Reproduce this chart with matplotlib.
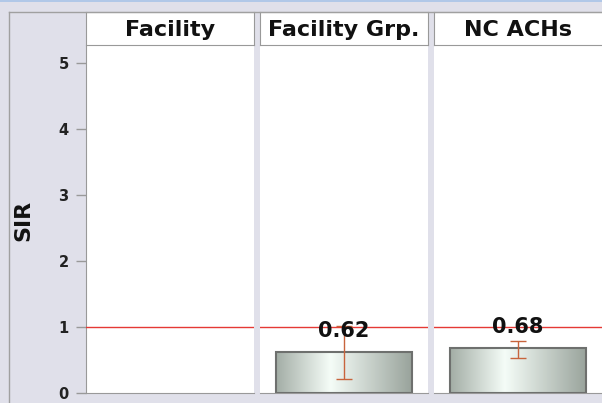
import matplotlib
matplotlib.use("Agg")
import matplotlib.pyplot as plt
import numpy as np
from matplotlib.patches import Rectangle
from matplotlib.lines import Line2D

# ---- data ----
panels = ["Facility", "Facility Grp.", "NC ACHs"]
sir_values = [None, 0.62, 0.68]
ci_lower = [None, 0.21, 0.54]
ci_upper = [None, 1.02, 0.80]
y_ticks = [0, 1, 2, 3, 4, 5]
reference_line = 1.0
y_label = "SIR"

W, H = 602, 403
BG = "#e0e0ea"
fig = plt.figure(figsize=(W / 100, H / 100), dpi=100, facecolor=BG)

def px(x, y, w, h):
    return [x / W, (H - y - h) / H, w / W, h / H]

# outer frame lines
fig.add_artist(Line2D([0, 1], [1 - 0.5 / H, 1 - 0.5 / H], transform=fig.transFigure, color="#a8c4e8", lw=1.2))
fig.add_artist(Line2D([8.5 / W, 8.5 / W], [0, 1 - 11.5 / H], transform=fig.transFigure, color="#a0a0a0", lw=1))
fig.add_artist(Line2D([8.5 / W, 1], [1 - 11.5 / H, 1 - 11.5 / H], transform=fig.transFigure, color="#a0a0a0", lw=1))

panel_x = [86, 260, 434]
panel_w = 168
plot_top, plot_bot = 46, 393.3
ymax = (plot_bot - plot_top) / 66.0

# gradient for bars
grad_pos = np.array([0.0, 0.4, 1.0])
grad_cols = np.array([[0.64, 0.68, 0.65], [0.96, 0.99, 0.97], [0.60, 0.64, 0.61]])
xs = np.linspace(0, 1, 200)
grad = np.stack([np.interp(xs, grad_pos, grad_cols[:, c]) for c in range(3)], axis=-1)[None, :, :]

for i, (name, val, lo, hi) in enumerate(zip(panels, sir_values, ci_lower, ci_upper)):
    ax = fig.add_axes(px(panel_x[i], plot_top, panel_w, plot_bot - plot_top))
    ax.set_facecolor("white")
    ax.set_xlim(0, 1)
    ax.set_ylim(0, ymax)
    for s in ["top", "right"]:
        ax.spines[s].set_visible(False)
    ax.spines["bottom"].set_color("#999999")
    ax.spines["left"].set_color("#999999")
    if i == 0:
        ax.set_yticks(y_ticks)
        ax.set_yticklabels([str(t) for t in y_ticks], fontsize=10.5, fontweight="bold", color="#222222")
        ax.tick_params(axis="y", length=7.5, width=1, color="#999999", pad=5)
    else:
        ax.spines["left"].set_visible(False)
        ax.set_yticks([])
    ax.set_xticks([])
    ax.axhline(reference_line, color="#e53935", lw=1, zorder=3)
    if val is not None:
        x0, x1 = 16 / panel_w, (panel_w - 16) / panel_w
        ax.imshow(grad, extent=[x0, x1, 0, val], aspect="auto", zorder=2, interpolation="bilinear")
        ax.add_patch(Rectangle((x0, 0), x1 - x0, val, fill=False, ec="#6e706e", lw=1.5, zorder=4))
        ax.set_xlim(0, 1)
        ax.set_ylim(0, ymax)
        ax.errorbar([0.5], [val], yerr=[[val - lo], [hi - val]], fmt="none",
                    ecolor="#c8643c", elinewidth=1, capsize=6, capthick=1, zorder=5)
        ax.annotate(f"{val:.2f}", xy=(0.5, val), xytext=(0, 11), textcoords="offset pixels",
                    ha="center", va="bottom", fontsize=15, fontweight="bold", color="#111111", zorder=6)
    # header
    hx = fig.add_axes(px(panel_x[i], 12, panel_w if i < 2 else W - panel_x[i] + 2, 33))
    hx.set_facecolor("white")
    hx.set_xticks([]); hx.set_yticks([])
    for s in hx.spines.values():
        s.set_color("#999999")
    hx.text(0.5 if i < 2 else 84 / (W - panel_x[i] + 2), 0.45, name, ha="center", va="center",
            fontsize=16, fontweight="bold", color="#111111", transform=hx.transAxes)

fig.text(23 / W, 1 - 220 / H, y_label, rotation=90, ha="center", va="center",
         fontsize=16, fontweight="bold", color="#111111")

fig.savefig("out.png", dpi=100, facecolor=BG)
